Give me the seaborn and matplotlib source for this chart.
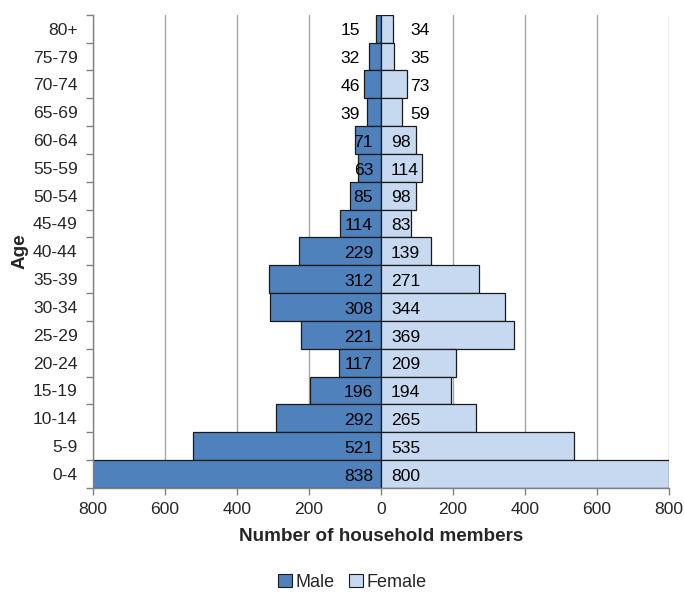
import matplotlib
matplotlib.use("Agg")
import matplotlib.pyplot as plt
import seaborn as sns
import pandas as pd
import numpy as np
from matplotlib.patches import Patch

age_groups = ["80+", "75-79", "70-74", "65-69", "60-64", "55-59", "50-54", "45-49",
              "40-44", "35-39", "30-34", "25-29", "20-24", "15-19", "10-14", "5-9", "0-4"]
male = [15, 32, 46, 39, 71, 63, 85, 114, 229, 312, 308, 221, 117, 196, 292, 521, 838]
female = [34, 35, 73, 59, 98, 114, 98, 83, 139, 271, 344, 369, 209, 194, 265, 535, 800]
x_ticks = [-800, -600, -400, -200, 0, 200, 400, 600, 800]

MALE_COLOR = "#4F81BD"
FEMALE_COLOR = "#C6D9F1"
EDGE = "#1a1a1a"
FS = 12.6

sns.set_theme(style="white")
plt.rcParams["font.family"] = ["Liberation Sans", "DejaVu Sans"]

df = pd.DataFrame({"age": age_groups, "male": [-v for v in male], "female": female})

fig = plt.figure(figsize=(6.84, 5.92), dpi=100)
ax = fig.add_axes([0.136, 0.176, 0.842, 0.799])

ax.grid(axis="x", color="#a6a6a6", linewidth=1, zorder=0)
ax.set_axisbelow(True)

sns.barplot(data=df, y="age", x="male", order=age_groups, orient="h", color=MALE_COLOR,
            saturation=1, width=1.0, edgecolor=EDGE, linewidth=0.9, ax=ax, zorder=2)
sns.barplot(data=df, y="age", x="female", order=age_groups, orient="h", color=FEMALE_COLOR,
            saturation=1, width=1.0, edgecolor=EDGE, linewidth=0.9, ax=ax, zorder=2)

ax.set_xlim(-800, 800)
ax.set_ylim(len(age_groups) - 0.5, -0.5)

# value labels: small bars get labels beside the bar, others sit near the centre line
for i, (m, f) in enumerate(zip(male, female)):
    if i < 4:
        ax.text(-86, i + 0.08, str(m), ha="center", va="center", fontsize=FS, color="black", zorder=3)
        ax.text(108, i + 0.08, str(f), ha="center", va="center", fontsize=FS, color="black", zorder=3)
    else:
        ax.text(-22, i + 0.08, str(m), ha="right", va="center", fontsize=FS, color="black", zorder=3)
        ax.text(28, i + 0.08, str(f), ha="left", va="center", fontsize=FS, color="black", zorder=3)

ax.set_xticks(x_ticks)
ax.set_xticklabels([str(abs(t)) for t in x_ticks], fontsize=FS)
ax.set_yticks(range(len(age_groups)))
ax.set_yticklabels(age_groups, fontsize=FS)
ax.set_yticks(np.arange(-0.5, len(age_groups), 1), minor=True)
ax.tick_params(axis="y", which="major", length=0, pad=11)
ax.tick_params(axis="y", which="minor", length=5, color="#808080", width=1, left=True)
ax.tick_params(axis="x", which="major", length=5, color="#808080", width=1, bottom=True, pad=5)

for side in ["top", "right"]:
    ax.spines[side].set_visible(False)
for side in ["left", "bottom"]:
    ax.spines[side].set_color("#808080")
    ax.spines[side].set_linewidth(1)

ax.set_xlabel("Number of household members", fontsize=13.6, fontweight="bold", labelpad=8)
ax.set_ylabel("Age", fontsize=13.6, fontweight="bold", labelpad=3)

handles = [Patch(facecolor=MALE_COLOR, edgecolor=EDGE, linewidth=0.8, label="Male"),
           Patch(facecolor=FEMALE_COLOR, edgecolor=EDGE, linewidth=0.8, label="Female")]
fig.legend(handles=handles, loc="center", bbox_to_anchor=(0.515, 0.016), ncol=2, frameon=False,
           fontsize=13, handlelength=0.75, handleheight=0.75, handletextpad=0.2, columnspacing=0.8,
           borderpad=0.1)

fig.savefig("out.png", dpi=100)
